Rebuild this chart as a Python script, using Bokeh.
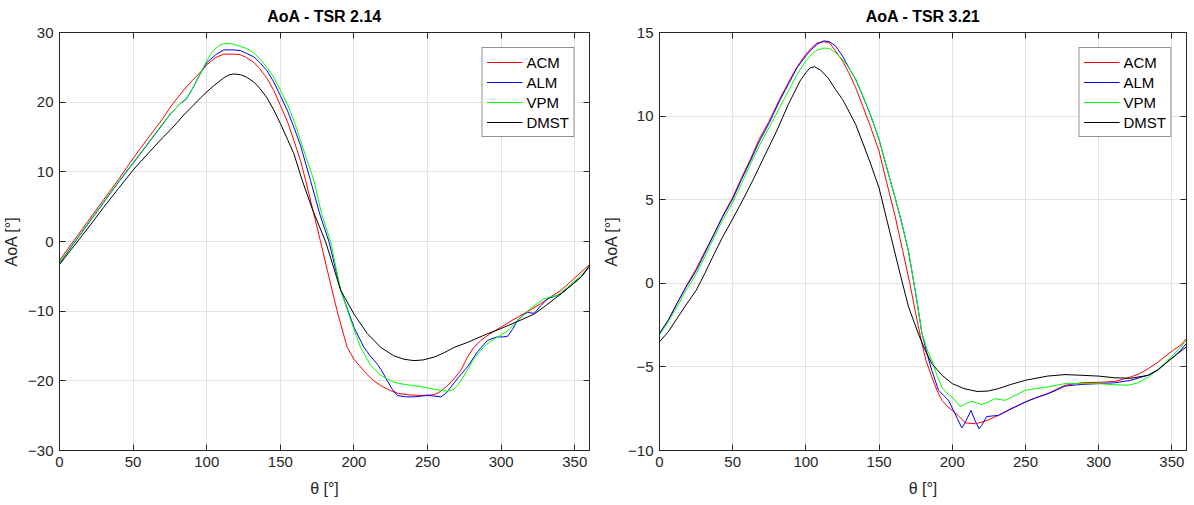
from bokeh.plotting import figure
from bokeh.layouts import row
from bokeh.models import LinearAxis, Range1d, FixedTicker, Legend, LegendItem
from bokeh.embed import file_html
from bokeh.resources import INLINE

FONT = "Liberation Sans"
AXIS_COLOR = "#262626"
GRID_COLOR = "#e1e1e1"

method_names = ["ACM", "ALM", "VPM", "DMST"]
method_colors = ["#ff0000", "#0000ff", "#00ff00", "#000000"]
theta_ticks = [0, 50, 100, 150, 200, 250, 300, 350]

# ---------------- TSR 2.14 ----------------
aoa214_ticks = [-30, -20, -10, 0, 10, 20, 30]

theta_acm_214 = [0, 10, 20, 30, 40, 50.6, 60, 70, 75.3, 80, 85, 90.2, 95.7, 100.2, 106, 111.6, 118.4, 122.9,
                 127, 132, 136, 141, 145.5, 150.1, 155, 159.2, 163.7, 167.2, 172, 177.3, 183, 188.6, 195.4,
                 200, 204.5, 209, 213.5, 219, 224.9, 230, 236.3, 245, 254.4, 259, 263.5, 268, 272.6, 277.1,
                 281, 286.2, 292, 299.8, 306, 313.4, 320, 327, 334, 340.7, 347, 354.3, 360]
aoa_acm_214 = [-2.7, 0.2, 3.1, 6.0, 8.9, 12.1, 14.8, 17.6, 19.3, 20.6, 21.9, 23.1, 24.3, 25.4, 26.4, 26.9, 26.9,
               26.8, 26.4, 25.7, 24.8, 23.4, 21.7, 19.5, 17.1, 14.5, 11.6, 8.75, 4.6, 0.0, -5.1, -10.0,
               -15.2, -16.9, -18.0, -19.1, -20.0, -20.8, -21.4, -21.8, -22.0, -22.1, -22.0, -21.5, -20.7,
               -19.7, -18.5, -16.6, -15.3, -14.2, -13.3, -12.3, -11.5, -10.6, -9.8, -8.9, -7.9, -7.0, -5.8,
               -4.4, -3.3]

theta_alm_214 = [0, 10, 20, 30, 40, 50.6, 60, 70, 75.3, 82, 86, 90.2, 95.7, 100.2, 106, 111.6, 118.4, 122.9,
                 127, 132, 136, 141, 145.5, 150.1, 155, 159.2, 163.7, 170.5, 177, 183, 191, 200, 206.8, 211,
                 215.9, 219, 222.7, 226, 229.5, 235, 240.8, 249.9, 255, 259, 262.5, 265.8, 271, 277.1, 284,
                 290.7, 297, 301, 304.4, 308, 311.2, 315, 318, 322.5, 327, 331.6, 336, 340.7, 347, 354.3, 360]
aoa_alm_214 = [-3.1, -0.2, 2.7, 5.6, 8.5, 11.4, 14.0, 16.8, 18.3, 19.8, 20.4, 21.9, 24.1, 25.7, 26.8, 27.5, 27.5,
               27.4, 27.0, 26.5, 25.7, 24.5, 22.9, 20.9, 18.7, 16.4, 13.8, 8.75, 3.8, 0.0, -7.0, -12.3,
               -15.2, -16.4, -17.6, -18.6, -20.0, -21.2, -22.1, -22.3, -22.3, -22.1, -22.2, -22.3, -21.8,
               -20.9, -19.5, -18.0, -15.8, -14.2, -13.7, -13.7, -13.6, -12.5, -11.3, -10.5, -10.2, -10.3,
               -9.2, -8.2, -7.9, -7.5, -6.4, -5.1, -3.6]

theta_vpm_214 = [0, 10, 20, 30, 40, 50.6, 60, 70, 75.3, 82, 86, 90.2, 95.7, 100.2, 104, 108, 111.6, 115, 118.4,
                 122.9, 127, 132, 136, 141, 145.5, 150.1, 155, 159.2, 163.7, 172.8, 178, 184.1, 191, 197.8,
                 204.5, 211.3, 218.2, 227, 234, 240.8, 247, 254.4, 259, 263.5, 268, 272, 277, 281, 286.2,
                 290, 295.3, 300, 304.4, 309, 313.4, 320, 329.3, 338.4, 346, 354.3, 360]
aoa_vpm_214 = [-3.0, -0.1, 2.8, 5.7, 8.6, 11.5, 14.1, 16.9, 18.3, 19.8, 20.5, 21.9, 24.1, 26.0, 27.3, 28.1,
               28.4, 28.45, 28.3, 28.0, 27.7, 27.1, 26.2, 25.0, 23.6, 21.7, 19.6, 17.4, 14.5, 8.75, 4.0, 0.0,
               -7.0, -11.3, -15.2, -17.8, -19.2, -20.2, -20.5, -20.7, -20.9, -21.2, -21.35, -21.5, -21.2,
               -20.2, -18.5, -17.0, -15.6, -14.8, -14.0, -13.4, -12.8, -11.9, -10.9, -9.6, -8.2, -7.7, -6.4,
               -4.9, -3.5]

theta_dmst_214 = [0, 10, 20, 30, 40, 50.6, 60, 70, 75.3, 80, 85, 90.2, 95.7, 100.2, 105, 111.6, 115, 118.4,
                  122.9, 127, 132, 136, 141, 145.5, 150.1, 155, 159.2, 164.9, 172, 180.7, 191, 200, 209,
                  218.2, 227, 234, 240.8, 247, 254.4, 261, 268, 277, 290, 299.8, 311, 322.5, 331, 340.7,
                  347, 354.3, 360]
aoa_dmst_214 = [-3.3, -0.6, 2.1, 4.9, 7.6, 10.4, 12.6, 14.9, 16.0, 17.1, 18.3, 19.4, 20.6, 21.5, 22.4, 23.5,
                23.9, 24.05, 23.95, 23.6, 22.9, 22.0, 20.6, 18.9, 16.9, 14.6, 12.6, 8.75, 4.5, 0.0, -7.0,
                -10.4, -13.2, -15.2, -16.4, -16.9, -17.1, -17.0, -16.6, -16.0, -15.2, -14.5, -13.3, -12.5,
                -11.5, -10.4, -9.1, -7.5, -6.4, -5.1, -3.5]

# ---------------- TSR 3.21 ----------------
aoa321_ticks = [-10, -5, 0, 5, 10, 15]

theta_acm_321 = [0, 6, 12, 18, 25, 31, 37, 43, 50, 56, 62, 68, 75, 82, 88.6, 94, 100, 104, 107.7, 112.2, 116,
                 120.2, 125, 129.3, 134, 138.4, 144, 150, 155, 161, 166, 171, 175, 179, 182, 186, 189.5, 193,
                 196.5, 200, 204, 209, 216, 224, 231.5, 240, 250, 257, 265, 271, 277, 288, 300, 311, 316,
                 322, 328, 334, 340, 345, 351, 356, 360]
aoa_acm_321 = [-3.0, -2.2, -1.2, -0.2, 0.86, 1.9, 2.9, 4.0, 5.14, 6.3, 7.4, 8.6, 9.72, 11.0, 12.1, 12.95,
               13.7, 14.1, 14.37, 14.45, 14.4, 13.9, 13.3, 12.6, 11.7, 10.7, 9.4, 7.9, 6.1, 4.0, 2.0, 0.0,
               -1.8, -3.5, -4.6, -5.6, -6.4, -7.0, -7.35, -7.6, -7.9, -8.35, -8.4, -8.2, -7.9, -7.5, -7.1,
               -6.85, -6.6, -6.35, -6.1, -5.95, -5.92, -5.87, -5.75, -5.6, -5.4, -5.1, -4.75, -4.4, -4.0,
               -3.7, -3.3]

theta_alm_321 = [0, 6, 12, 18, 25, 31, 37, 43, 50, 56, 62, 68, 75, 82, 88.6, 94, 100, 104, 107.7, 112.2, 116,
                 120.2, 125, 129.3, 134, 138.4, 144, 150, 155, 161, 165.5, 170, 175, 179.3, 183, 186, 190.6,
                 194, 197.4, 201.9, 206.5, 209, 212.8, 215.5, 218.3, 220.1, 223.5, 231.5, 238.3, 249.8,
                 257, 265.5, 271, 276.9, 288, 300, 311, 322, 333.6, 340, 347, 352, 356, 360]
aoa_alm_321 = [-3.0, -2.2, -1.2, -0.25, 0.75, 1.8, 2.9, 3.95, 5.05, 6.2, 7.3, 8.45, 9.6, 10.9, 12.0, 12.9,
               13.6, 14.0, 14.3, 14.5, 14.45, 14.2, 13.6, 12.9, 12.2, 11.3, 10.1, 8.6, 7.0, 5.1, 3.6, 1.95,
               -0.6, -3.0, -4.3, -5.2, -6.4, -6.7, -7.0, -7.8, -8.65, -8.3, -7.6, -8.2, -8.7, -8.5, -7.97,
               -7.9, -7.6, -7.1, -6.85, -6.6, -6.4, -6.15, -6.05, -6.0, -5.95, -5.8, -5.5, -5.2, -4.7,
               -4.35, -4.0, -3.6]

theta_vpm_321 = [0, 6, 12, 18, 25, 31, 37, 43, 50, 56, 62, 68, 75, 82, 88.6, 94, 100, 104, 107.7, 112.2, 116,
                 120.2, 125, 129.3, 134, 138.4, 144, 150, 155, 161, 165.5, 170, 175, 179.3, 183, 186, 189.5,
                 192.8, 196, 199.9, 205.4, 209, 213, 216.5, 220, 225, 229, 236, 243, 250, 257, 265, 271, 277,
                 288, 300, 311, 320, 327, 334, 340, 347, 352, 356, 360]
aoa_vpm_321 = [-3.1, -2.3, -1.4, -0.45, 0.56, 1.6, 2.7, 3.75, 4.84, 5.95, 7.1, 8.2, 9.33, 10.5, 11.6, 12.5,
               13.3, 13.7, 13.95, 14.07, 14.05, 13.8, 13.4, 12.9, 12.2, 11.3, 10.1, 8.6, 7.0, 5.1, 3.6, 1.95,
               -0.6, -3.0, -4.0, -4.6, -5.5, -6.2, -6.55, -6.8, -7.37, -7.2, -7.05, -7.15, -7.25, -7.1, -6.9,
               -7.0, -6.7, -6.4, -6.3, -6.2, -6.1, -6.0, -6.0, -6.0, -6.07, -6.1, -5.95, -5.6, -5.2, -4.6,
               -4.2, -3.8, -3.4]

theta_dmst_321 = [0, 6, 12, 18, 25, 31, 37, 43, 50, 57, 64, 70, 75, 80, 84, 88, 92, 96, 100, 103, 106, 110,
                  115, 120.2, 125, 129.3, 134, 138.4, 144, 150, 155, 161, 166, 170.2, 176.9, 181, 186, 193,
                  200, 208, 217, 224, 231.5, 240, 250, 265, 277, 288, 300, 311, 322, 334, 341, 348, 357, 360]
aoa_dmst_321 = [-3.5, -2.9, -2.1, -1.3, -0.43, 0.6, 1.7, 2.75, 3.85, 5.0, 6.2, 7.3, 8.2, 9.1, 9.9, 10.7, 11.4,
                12.1, 12.6, 12.9, 12.95, 12.75, 12.3, 11.6, 11.0, 10.3, 9.5, 8.5, 7.2, 5.7, 3.9, 1.76,
                0.0, -1.43, -3.03, -3.9, -4.8, -5.5, -6.0, -6.3, -6.47, -6.45, -6.3, -6.05, -5.8, -5.55,
                -5.46, -5.5, -5.55, -5.65, -5.68, -5.5, -5.15, -4.62, -4.0, -3.8]

series_214 = [(theta_acm_214, aoa_acm_214), (theta_alm_214, aoa_alm_214),
              (theta_vpm_214, aoa_vpm_214), (theta_dmst_214, aoa_dmst_214)]
series_321 = [(theta_acm_321, aoa_acm_321), (theta_alm_321, aoa_alm_321),
              (theta_vpm_321, aoa_vpm_321), (theta_dmst_321, aoa_dmst_321)]


def style_axis(axis, ticks, show_labels):
    axis.ticker = FixedTicker(ticks=ticks)
    axis.axis_line_color = AXIS_COLOR
    axis.axis_line_width = 1
    axis.major_tick_line_color = AXIS_COLOR
    axis.major_tick_in = 6
    axis.major_tick_out = 0
    axis.minor_tick_line_color = None
    axis.major_label_text_font = FONT
    axis.major_label_text_color = AXIS_COLOR
    if show_labels:
        axis.major_label_text_font_size = "15px"
        axis.major_label_standoff = 6
    else:
        # box edge on the top / right: ticks only
        axis.major_label_text_font_size = "0px"
        axis.major_label_standoff = 0
    axis.axis_label_text_font = FONT
    axis.axis_label_text_font_size = "16px"
    axis.axis_label_text_font_style = "normal"
    axis.axis_label_text_color = AXIS_COLOR


def make_panel(title, ylim, yticks, series, width, left, right):
    p = figure(width=width, height=505, x_range=Range1d(0, 360), y_range=Range1d(*ylim),
               output_backend="svg", toolbar_location=None,
               min_border_left=left, min_border_right=right,
               min_border_top=32, min_border_bottom=55)
    p.background_fill_color = "white"
    p.border_fill_color = "white"
    p.outline_line_color = AXIS_COLOR
    p.outline_line_width = 1

    p.title.text = title
    p.title.align = "center"
    p.title.vertical_align = "top"
    p.title.text_font = FONT
    p.title.text_font_size = "16px"
    p.title.text_font_style = "bold"
    p.title.text_color = "black"
    p.title.standoff = 11

    style_axis(p.xaxis[0], theta_ticks, True)
    style_axis(p.yaxis[0], yticks, True)
    p.xaxis[0].axis_label = "θ [°]"
    p.xaxis[0].axis_label_standoff = 10
    p.yaxis[0].axis_label = "AoA [°]"
    p.yaxis[0].axis_label_standoff = 5

    top = LinearAxis()
    style_axis(top, theta_ticks, False)
    p.add_layout(top, "above")
    rgt = LinearAxis()
    style_axis(rgt, yticks, False)
    p.add_layout(rgt, "right")

    p.xgrid.ticker = FixedTicker(ticks=theta_ticks)
    p.ygrid.ticker = FixedTicker(ticks=yticks)
    for g in (p.xgrid, p.ygrid):
        g.grid_line_color = GRID_COLOR
        g.grid_line_width = 1

    items = []
    for (th, aoa), name, color in zip(series, method_names, method_colors):
        r = p.line(th, aoa, line_color=color, line_width=1)
        items.append(LegendItem(label=name, renderers=[r]))

    legend = Legend(items=items, location="top_right", margin=15,
                    padding=4, spacing=0, glyph_width=36, glyph_height=20,
                    label_height=20, label_standoff=4,
                    label_text_font=FONT, label_text_font_size="15px",
                    label_text_color="black",
                    border_line_color=AXIS_COLOR, border_line_width=1,
                    background_fill_color="white", background_fill_alpha=1)
    p.add_layout(legend, "center")
    return p


p1 = make_panel("AoA - TSR 2.14", (-30, 30), aoa214_ticks, series_214, 600, 59, 11)
p2 = make_panel("AoA - TSR 3.21", (-10, 15), aoa321_ticks, series_321, 594, 57, 8)

layout = row(p1, p2)
open("out.html", "w").write(file_html(layout, INLINE))
